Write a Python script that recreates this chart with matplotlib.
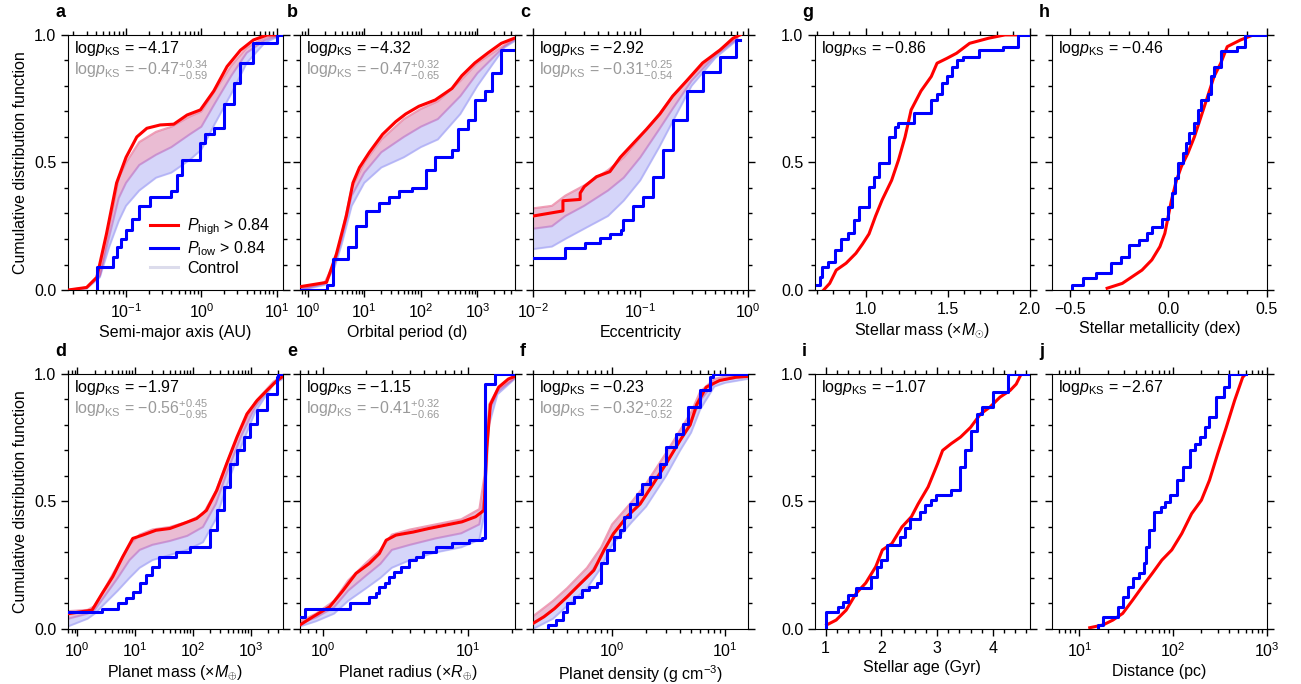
import numpy as np
import matplotlib.pyplot as plt
from matplotlib.ticker import MultipleLocator, FixedLocator, FormatStrFormatter

plt.rcParams['font.family'] = ['Liberation Sans', 'DejaVu Sans']
plt.rcParams['mathtext.fontset'] = 'custom'
plt.rcParams['mathtext.rm'] = 'Liberation Sans'
plt.rcParams['mathtext.it'] = 'Liberation Sans:italic'
plt.rcParams['mathtext.bf'] = 'Liberation Sans:bold'
plt.rcParams['font.size'] = 11.5

RED = '#ff0000'
BLUE = '#0000ff'
GREY = '#9a9a9a'

# ---- a: semi-major axis ----
a_red_x = [0.017, 0.03, 0.041, 0.055, 0.075, 0.10, 0.139, 0.189, 0.284, 0.43, 0.646, 0.97, 1.46, 2.19, 3.3, 4.9, 7.5, 12]
a_red_y = [0.0, 0.01, 0.05, 0.22, 0.42, 0.52, 0.60, 0.634, 0.647, 0.65, 0.686, 0.706, 0.78, 0.876, 0.94, 0.98, 1.0, 1.0]
a_blue_x = [0.041, 0.041, 0.067, 0.075, 0.085, 0.10, 0.12, 0.15, 0.21, 0.39, 0.47, 0.55, 0.97, 1.1, 1.46, 2.0, 2.7, 3.3, 4.9, 10.0, 12]
a_blue_y = [0.0, 0.09, 0.13, 0.17, 0.20, 0.235, 0.28, 0.33, 0.366, 0.39, 0.45, 0.51, 0.575, 0.61, 0.634, 0.73, 0.81, 0.89, 0.967, 1.0, 1.0]
a_ctrl_x = [0.017, 0.03, 0.045, 0.06, 0.08, 0.1, 0.15, 0.25, 0.4, 0.7, 1.0, 1.5, 2.5, 4, 7, 12]
a_ctrl_hi = [0.0, 0.01, 0.06, 0.25, 0.44, 0.50, 0.58, 0.62, 0.64, 0.68, 0.70, 0.78, 0.88, 0.95, 0.99, 1.0]
a_ctrl_mid = [0.0, 0.008, 0.055, 0.21, 0.36, 0.42, 0.49, 0.53, 0.56, 0.61, 0.64, 0.73, 0.84, 0.93, 0.98, 1.0]
a_ctrl_lo = [0.0, 0.005, 0.05, 0.17, 0.27, 0.33, 0.39, 0.44, 0.46, 0.51, 0.55, 0.65, 0.77, 0.89, 0.97, 1.0]

# ---- b: orbital period ----
b_red_x = [0.73, 2.15, 3.2, 4.8, 6.3, 8.2, 12.3, 21, 36, 54, 92, 180, 355, 530, 900, 1550, 2650, 4500]
b_red_y = [0.013, 0.03, 0.14, 0.29, 0.42, 0.48, 0.54, 0.61, 0.66, 0.69, 0.72, 0.745, 0.79, 0.84, 0.89, 0.93, 0.967, 0.987]
b_blue_x = [0.73, 2.15, 2.8, 5.1, 7.0, 10.8, 18.5, 27, 41, 71, 121, 180, 355, 460, 690, 900, 1350, 1780, 2650, 4500]
b_blue_y = [0.0, 0.02, 0.12, 0.17, 0.25, 0.31, 0.34, 0.366, 0.39, 0.40, 0.47, 0.52, 0.55, 0.63, 0.667, 0.745, 0.78, 0.85, 0.94, 0.94]
b_ctrl_x = [0.73, 1, 2, 3, 4, 6, 10, 20, 50, 100, 200, 500, 1000, 3000, 4500]
b_ctrl_hi = [0.01, 0.012, 0.03, 0.11, 0.22, 0.40, 0.50, 0.59, 0.67, 0.71, 0.74, 0.82, 0.89, 0.96, 0.985]
b_ctrl_mid = [0.005, 0.008, 0.025, 0.10, 0.20, 0.37, 0.46, 0.54, 0.60, 0.64, 0.67, 0.76, 0.85, 0.955, 0.98]
b_ctrl_lo = [0.0, 0.005, 0.02, 0.09, 0.18, 0.33, 0.42, 0.48, 0.52, 0.56, 0.59, 0.69, 0.80, 0.95, 0.975]

# ---- c: eccentricity ----
c_red_x = [0.01, 0.019, 0.019, 0.0275, 0.0275, 0.03, 0.039, 0.052, 0.065, 0.086, 0.114, 0.152, 0.20, 0.27, 0.38, 0.55, 0.73, 0.85]
c_red_y = [0.29, 0.31, 0.35, 0.355, 0.38, 0.405, 0.444, 0.464, 0.52, 0.575, 0.63, 0.69, 0.76, 0.82, 0.89, 0.94, 0.987, 1.0]
c_blue_x = [0.01, 0.020, 0.0305, 0.042, 0.052, 0.066, 0.069, 0.086, 0.106, 0.13, 0.163, 0.20, 0.27, 0.38, 0.55, 0.78, 0.85]
c_blue_y = [0.124, 0.163, 0.186, 0.203, 0.22, 0.235, 0.275, 0.33, 0.366, 0.444, 0.55, 0.667, 0.78, 0.856, 0.915, 0.98, 0.98]
c_ctrl_x = [0.01, 0.015, 0.02, 0.03, 0.05, 0.07, 0.1, 0.15, 0.2, 0.3, 0.5, 0.8]
c_ctrl_hi = [0.32, 0.33, 0.37, 0.41, 0.47, 0.52, 0.60, 0.69, 0.76, 0.84, 0.93, 0.99]
c_ctrl_mid = [0.24, 0.25, 0.29, 0.33, 0.39, 0.44, 0.52, 0.63, 0.71, 0.82, 0.92, 0.985]
c_ctrl_lo = [0.16, 0.17, 0.20, 0.24, 0.29, 0.35, 0.43, 0.56, 0.66, 0.80, 0.91, 0.98]

# ---- d: planet mass ----
d_red_x = [0.69, 1.8, 2.7, 4.1, 6.1, 9.1, 13.5, 23, 40, 68, 116, 172, 260, 385, 580, 865, 1300, 1920, 2880, 3600]
d_red_y = [0.06, 0.074, 0.14, 0.205, 0.283, 0.355, 0.368, 0.387, 0.394, 0.413, 0.433, 0.465, 0.544, 0.648, 0.752, 0.843, 0.896, 0.935, 0.974, 0.99]
d_blue_x = [0.69, 2.7, 5.0, 7.0, 9.1, 12, 15.5, 20, 26, 52, 89, 200, 260, 340, 445, 580, 760, 985, 1300, 1920, 2880, 3000, 3600]
d_blue_y = [0.068, 0.08, 0.10, 0.12, 0.146, 0.18, 0.21, 0.244, 0.283, 0.30, 0.322, 0.387, 0.465, 0.557, 0.648, 0.70, 0.752, 0.804, 0.857, 0.92, 0.987, 1.0, 1.0]
d_ctrl_x = [0.69, 1.5, 2, 3, 5, 8, 12, 20, 40, 80, 150, 250, 400, 700, 1200, 2500, 3600]
d_ctrl_hi = [0.07, 0.075, 0.09, 0.16, 0.25, 0.33, 0.37, 0.39, 0.40, 0.42, 0.45, 0.54, 0.66, 0.79, 0.89, 0.97, 0.99]
d_ctrl_mid = [0.04, 0.06, 0.075, 0.13, 0.20, 0.27, 0.31, 0.33, 0.345, 0.365, 0.40, 0.49, 0.62, 0.76, 0.87, 0.965, 0.985]
d_ctrl_lo = [0.01, 0.04, 0.06, 0.10, 0.15, 0.20, 0.24, 0.27, 0.29, 0.31, 0.34, 0.43, 0.57, 0.72, 0.85, 0.96, 0.98]

# ---- e: planet radius ----
e_red_x = [0.70, 0.86, 1.12, 1.38, 1.7, 2.1, 2.46, 2.74, 3.2, 4.2, 5.4, 7.0, 9.1, 11.3, 12.9, 13.5, 14.3, 16.3, 19, 21]
e_red_y = [0.016, 0.048, 0.087, 0.15, 0.218, 0.257, 0.296, 0.348, 0.368, 0.38, 0.394, 0.407, 0.42, 0.44, 0.465, 0.71, 0.88, 0.948, 0.98, 0.99]
e_blue_x = [0.70, 0.76, 1.54, 2.1, 2.34, 2.46, 2.67, 2.88, 3.12, 3.46, 3.95, 4.39, 4.88, 6.0, 7.8, 10.2, 12.5, 13.2, 15.4, 21]
e_blue_y = [0.048, 0.08, 0.10, 0.126, 0.14, 0.166, 0.18, 0.205, 0.225, 0.244, 0.27, 0.283, 0.303, 0.32, 0.336, 0.35, 0.355, 0.96, 1.0, 1.0]
e_ctrl_x = [0.7, 0.9, 1.2, 1.5, 2, 2.5, 3, 4, 6, 9, 12, 13, 14, 16, 21]
e_ctrl_hi = [0.03, 0.06, 0.11, 0.19, 0.26, 0.31, 0.37, 0.39, 0.41, 0.43, 0.47, 0.60, 0.88, 0.94, 0.985]
e_ctrl_mid = [0.02, 0.045, 0.085, 0.15, 0.21, 0.255, 0.31, 0.33, 0.355, 0.375, 0.41, 0.52, 0.85, 0.93, 0.983]
e_ctrl_lo = [0.01, 0.03, 0.06, 0.11, 0.16, 0.20, 0.24, 0.27, 0.30, 0.32, 0.35, 0.45, 0.80, 0.92, 0.98]

# ---- f: planet density ----
f_red_x = [0.2, 0.25, 0.31, 0.40, 0.53, 0.69, 0.85, 1.03, 1.35, 1.77, 2.32, 3.0, 4.0, 4.9, 5.6, 6.8, 8.9, 12.5, 15.8]
f_red_y = [0.022, 0.048, 0.08, 0.126, 0.18, 0.23, 0.31, 0.374, 0.44, 0.49, 0.57, 0.648, 0.74, 0.80, 0.88, 0.948, 0.974, 0.987, 0.99]
f_blue_x = [0.27, 0.27, 0.32, 0.365, 0.40, 0.46, 0.546, 0.62, 0.74, 0.79, 0.90, 1.03, 1.18, 1.27, 1.45, 1.66, 1.83, 2.17, 2.65, 3.0, 3.7, 4.25, 4.7, 5.96, 7.3, 7.8, 15.8]
f_blue_y = [0.0, 0.016, 0.035, 0.068, 0.10, 0.126, 0.153, 0.166, 0.18, 0.257, 0.31, 0.361, 0.387, 0.44, 0.49, 0.53, 0.57, 0.596, 0.648, 0.713, 0.765, 0.804, 0.87, 0.935, 0.987, 1.0, 1.0]
f_ctrl_x = [0.2, 0.3, 0.4, 0.6, 0.8, 1.0, 1.5, 2, 3, 4, 5, 6, 8, 10, 15.8]
f_ctrl_hi = [0.05, 0.11, 0.16, 0.24, 0.32, 0.41, 0.50, 0.57, 0.69, 0.78, 0.85, 0.93, 0.98, 0.99, 1.0]
f_ctrl_mid = [0.02, 0.075, 0.125, 0.20, 0.28, 0.37, 0.46, 0.525, 0.645, 0.74, 0.81, 0.895, 0.965, 0.978, 0.99]
f_ctrl_lo = [0.0, 0.04, 0.09, 0.16, 0.24, 0.33, 0.42, 0.48, 0.60, 0.70, 0.77, 0.86, 0.95, 0.965, 0.98]

# ---- g: stellar mass ----
g_red_x = [0.743, 0.78, 0.82, 0.88, 0.94, 0.98, 1.02, 1.06, 1.10, 1.158, 1.2, 1.24, 1.277, 1.337, 1.40, 1.435, 1.495, 1.554, 1.634, 1.75, 1.85, 2.0]
g_red_y = [0.0, 0.026, 0.078, 0.105, 0.144, 0.18, 0.22, 0.29, 0.353, 0.43, 0.51, 0.60, 0.706, 0.78, 0.837, 0.889, 0.908, 0.928, 0.967, 0.987, 1.0, 1.0]
g_blue_x = [0.70, 0.72, 0.73, 0.77, 0.81, 0.85, 0.89, 0.93, 0.96, 1.02, 1.05, 1.08, 1.14, 1.178, 1.198, 1.297, 1.396, 1.435, 1.465, 1.495, 1.525, 1.554, 1.594, 1.693, 1.84, 1.93, 2.0]
g_blue_y = [0.02, 0.05, 0.09, 0.11, 0.157, 0.2, 0.222, 0.275, 0.327, 0.405, 0.444, 0.497, 0.60, 0.64, 0.654, 0.693, 0.745, 0.77, 0.81, 0.837, 0.876, 0.90, 0.915, 0.94, 0.954, 1.0, 1.0]

# ---- h: stellar metallicity ----
h_red_x = [-0.31, -0.233, -0.183, -0.133, -0.083, -0.042, -0.017, 0.0, 0.017, 0.042, 0.067, 0.1, 0.133, 0.167, 0.2, 0.233, 0.267, 0.3, 0.367, 0.433, 0.5]
h_red_y = [0.007, 0.026, 0.052, 0.078, 0.118, 0.17, 0.222, 0.288, 0.353, 0.43, 0.484, 0.536, 0.60, 0.68, 0.758, 0.837, 0.889, 0.954, 0.98, 1.0, 1.0]
h_blue_x = [-0.49, -0.49, -0.433, -0.367, -0.29, -0.24, -0.2, -0.15, -0.108, -0.083, -0.033, 0.0, 0.017, 0.033, 0.05, 0.075, 0.092, 0.108, 0.133, 0.15, 0.167, 0.2, 0.217, 0.233, 0.267, 0.35, 0.392, 0.5]
h_blue_y = [0.0, 0.02, 0.046, 0.065, 0.105, 0.13, 0.176, 0.196, 0.222, 0.248, 0.28, 0.327, 0.38, 0.438, 0.497, 0.536, 0.575, 0.614, 0.654, 0.706, 0.745, 0.77, 0.837, 0.876, 0.935, 0.954, 1.0, 1.0]

# ---- i: stellar age ----
i_red_x = [1.02, 1.19, 1.37, 1.55, 1.72, 1.9, 2.02, 2.19, 2.37, 2.54, 2.66, 2.84, 3.01, 3.10, 3.25, 3.42, 3.6, 3.78, 3.95, 4.13, 4.31, 4.42, 4.51, 4.66]
i_red_y = [0.016, 0.035, 0.074, 0.14, 0.18, 0.244, 0.31, 0.335, 0.40, 0.44, 0.49, 0.557, 0.648, 0.70, 0.726, 0.752, 0.79, 0.843, 0.87, 0.909, 0.935, 0.96, 1.0, 1.0]
i_blue_x = [1.0, 1.0, 1.22, 1.31, 1.40, 1.55, 1.81, 1.93, 1.99, 2.1, 2.34, 2.43, 2.51, 2.69, 2.78, 2.9, 2.98, 3.25, 3.42, 3.51, 3.6, 3.72, 3.81, 4.01, 4.28, 4.66]
i_blue_y = [0.0, 0.068, 0.087, 0.107, 0.133, 0.16, 0.205, 0.244, 0.27, 0.33, 0.361, 0.394, 0.433, 0.459, 0.485, 0.505, 0.524, 0.544, 0.635, 0.70, 0.778, 0.843, 0.87, 0.928, 1.0, 1.0]

# ---- j: distance ----
j_red_x = [12.9, 17.9, 22.8, 29, 37, 47, 60, 76, 97, 124, 158, 201, 245, 300, 370, 455, 555, 600]
j_red_y = [0.005, 0.016, 0.035, 0.061, 0.113, 0.166, 0.218, 0.27, 0.31, 0.374, 0.452, 0.505, 0.583, 0.687, 0.79, 0.896, 0.987, 1.0]
j_blue_x = [15.9, 15.9, 17.9, 25.7, 29, 33, 37, 43.5, 49, 51, 55, 63, 74, 83, 93, 110, 128, 151, 172, 195, 219, 245, 289, 353, 399, 600]
j_blue_y = [0.0, 0.016, 0.048, 0.087, 0.126, 0.166, 0.198, 0.218, 0.257, 0.32, 0.387, 0.459, 0.478, 0.498, 0.524, 0.583, 0.635, 0.70, 0.726, 0.752, 0.79, 0.83, 0.909, 0.948, 1.0, 1.0]

ks_main = {'a': '−4.17', 'b': '−4.32', 'c': '−2.92', 'd': '−1.97', 'e': '−1.15',
           'f': '−0.23', 'g': '−0.86', 'h': '−0.46', 'i': '−1.07', 'j': '−2.67'}
ks_ctrl = {'a': ('−0.47', '+0.34', '−0.59'), 'b': ('−0.47', '+0.32', '−0.65'),
           'c': ('−0.31', '+0.25', '−0.54'), 'd': ('−0.56', '+0.45', '−0.95'),
           'e': ('−0.41', '+0.32', '−0.66'), 'f': ('−0.32', '+0.22', '−0.52')}

fig = plt.figure(figsize=(13.01, 6.84), dpi=100)

W = 0.165
lefts = {'a': 0.0523, 'b': 0.2306, 'c': 0.4097, 'g': 0.6264, 'h': 0.8086,
         'd': 0.0523, 'e': 0.2306, 'f': 0.4097, 'i': 0.6264, 'j': 0.8086}
top_row = 'abcgh'


def panel(key, red, blue, ctrl, xlabel, xscale, xlim):
    bottom = 0.576 if key in top_row else 0.0804
    ax = fig.add_axes([lefts[key], bottom, W, 0.373])
    if ctrl is not None:
        # control samples: reddish near the upper edge, bluish towards the lower edge
        cx, hi, mid, lo = ctrl
        ax.fill_between(cx, lo, mid, color='#7676ee', alpha=0.30, lw=0)
        ax.fill_between(cx, mid, hi, color='#c8508c', alpha=0.38, lw=0)
        ax.plot(cx, lo, color='#6a6af0', alpha=0.30, lw=1.5)
        ax.plot(cx, mid, color='#9a50c8', alpha=0.40, lw=1.5)
        ax.plot(cx, hi, color='#e04070', alpha=0.50, lw=1.5)
    ax.plot(*red, color=RED, lw=2.2, zorder=4)
    ax.plot(*blue, color=BLUE, lw=2.2, drawstyle='steps-post', zorder=5)

    ax.set_xscale(xscale)
    ax.set_xlim(*xlim)
    ax.set_ylim(0, 1)
    ax.yaxis.set_major_locator(FixedLocator([0, 0.5, 1.0]))
    ax.yaxis.set_minor_locator(MultipleLocator(0.1))
    ax.yaxis.set_major_formatter(FormatStrFormatter('%.1f'))
    ax.tick_params(which='both', direction='out', top=True, right=True, width=1)
    ax.tick_params(which='major', length=5, labelsize=11.5)
    ax.tick_params(which='minor', length=3)
    if key not in 'adgi':
        ax.set_yticklabels([])
    if key in 'ad':
        ax.set_ylabel('Cumulative distribution function', fontsize=11.5, labelpad=4)
    ax.set_xlabel(xlabel, fontsize=11.5, labelpad=3)
    ax.text(-0.06, 1.055, key, transform=ax.transAxes, fontsize=13,
            fontweight='bold', ha='left', va='bottom')

    ax.text(0.03, 0.985, r'log$p_{\rm KS}$ = ' + ks_main[key], transform=ax.transAxes,
            fontsize=11.5, ha='left', va='top')
    if key in ks_ctrl:
        v, up, dn = ks_ctrl[key]
        ax.text(0.03, 0.905, r'log$p_{\rm KS}$ = ' + v + '$^{' + up + '}_{' + dn + '}$',
                transform=ax.transAxes, fontsize=11.5, ha='left', va='top', color=GREY)
    return ax


ax_a = panel('a', (a_red_x, a_red_y), (a_blue_x, a_blue_y),
             (a_ctrl_x, a_ctrl_hi, a_ctrl_mid, a_ctrl_lo),
             'Semi-major axis (AU)', 'log', (0.017, 12))
panel('b', (b_red_x, b_red_y), (b_blue_x, b_blue_y),
      (b_ctrl_x, b_ctrl_hi, b_ctrl_mid, b_ctrl_lo),
      'Orbital period (d)', 'log', (0.73, 4560))
panel('c', (c_red_x, c_red_y), (c_blue_x, c_blue_y),
      (c_ctrl_x, c_ctrl_hi, c_ctrl_mid, c_ctrl_lo),
      'Eccentricity', 'log', (0.01, 1.0))
panel('d', (d_red_x, d_red_y), (d_blue_x, d_blue_y),
      (d_ctrl_x, d_ctrl_hi, d_ctrl_mid, d_ctrl_lo),
      r'Planet mass (×$M_{\oplus}$)', 'log', (0.69, 3600))
panel('e', (e_red_x, e_red_y), (e_blue_x, e_blue_y),
      (e_ctrl_x, e_ctrl_hi, e_ctrl_mid, e_ctrl_lo),
      r'Planet radius (×$R_{\oplus}$)', 'log', (0.70, 21))
panel('f', (f_red_x, f_red_y), (f_blue_x, f_blue_y),
      (f_ctrl_x, f_ctrl_hi, f_ctrl_mid, f_ctrl_lo),
      r'Planet density (g cm$^{-3}$)', 'log', (0.2, 15.8))
ax_g = panel('g', (g_red_x, g_red_y), (g_blue_x, g_blue_y), None,
             r'Stellar mass (×$M_{\odot}$)', 'linear', (0.69, 2.0))
ax_h = panel('h', (h_red_x, h_red_y), (h_blue_x, h_blue_y), None,
             'Stellar metallicity (dex)', 'linear', (-0.59, 0.5))
ax_i = panel('i', (i_red_x, i_red_y), (i_blue_x, i_blue_y), None,
             'Stellar age (Gyr)', 'linear', (0.81, 4.66))
panel('j', (j_red_x, j_red_y), (j_blue_x, j_blue_y), None,
      'Distance (pc)', 'log', (5.1, 1000))

ax_g.xaxis.set_major_locator(FixedLocator([1.0, 1.5, 2.0]))
ax_g.xaxis.set_minor_locator(MultipleLocator(0.1))
ax_g.xaxis.set_major_formatter(FormatStrFormatter('%.1f'))
ax_h.xaxis.set_major_locator(FixedLocator([-0.5, 0.0, 0.5]))
ax_h.xaxis.set_minor_locator(MultipleLocator(0.1))
ax_h.set_xticklabels(['−0.5', '0.0', '0.5'])
ax_i.xaxis.set_major_locator(FixedLocator([1, 2, 3, 4]))
ax_i.xaxis.set_minor_locator(MultipleLocator(0.2))

# legend for the three sample groups
h1, = ax_a.plot([], [], color=RED, lw=2.2)
h2, = ax_a.plot([], [], color=BLUE, lw=2.2)
h3, = ax_a.plot([], [], color='#dcdcec', lw=2.2)
ax_a.legend([h1, h2, h3], [r'$P_{\rm high}$ > 0.84', r'$P_{\rm low}$ > 0.84', 'Control'],
            loc='lower right', bbox_to_anchor=(1.01, 0.0), frameon=False,
            handlelength=1.7, handletextpad=0.6, labelspacing=0.15, fontsize=11.5)

fig.savefig('out.png', dpi=100)
